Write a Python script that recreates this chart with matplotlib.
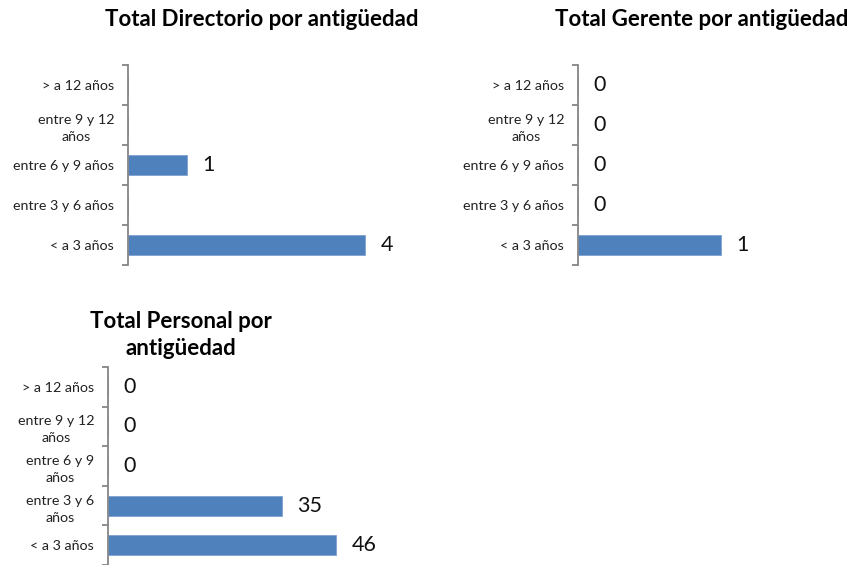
import numpy as np
import matplotlib
matplotlib.use("Agg")
import matplotlib.pyplot as plt

plt.rcParams['font.family'] = ['Lato', 'DejaVu Sans']

# categories, bottom to top
categorias = ["< a 3 años", "entre 3 y 6 años", "entre 6 y 9 años",
              "entre 9 y 12 años", "> a 12 años"]
etiquetas_12 = ["< a 3 años", "entre 3 y 6 años", "entre 6 y 9 años",
                "entre 9 y 12\naños", "> a 12 años"]
etiquetas_3 = ["< a 3 años", "entre 3 y 6\naños", "entre 6 y 9\naños",
               "entre 9 y 12\naños", "> a 12 años"]

directorio = [4, None, 1, None, None]
gerente = [1, 0, 0, 0, 0]
personal = [46, 35, 0, 0, 0]

titulo_dir = "Total Directorio por antigüedad"
titulo_ger = "Total Gerente por antigüedad"
titulo_per = "Total Personal por\nantigüedad"

W, H = 852, 565
AZUL = "#4F81BD"
GRIS = "#868686"


def panel(fig, left, top, bottom, xmax, px_unit, valores, etiquetas):
    width = xmax * px_unit
    ax = fig.add_axes([left / W, 1 - bottom / H, width / W, (bottom - top) / H])
    y = np.arange(len(valores))
    vals = [0 if v is None else v for v in valores]
    ax.barh(y, vals, height=0.5, color=AZUL, edgecolor="#7fa2d0", linewidth=0.6)
    ax.set_xlim(0, xmax)
    ax.set_ylim(-0.5, len(valores) - 0.5)
    for s in ["top", "right", "bottom"]:
        ax.spines[s].set_visible(False)
    ax.spines["left"].set_color(GRIS)
    ax.spines["left"].set_linewidth(1.3)
    ax.set_xticks([])
    # tick marks sit between categories, labels at the centres
    ax.set_yticks(np.arange(len(valores) + 1) - 0.5)
    ax.set_yticklabels([])
    ax.tick_params(axis="y", which="major", length=4, width=1.3, color=GRIS)
    ax.set_yticks(y, minor=True)
    ax.set_yticklabels(etiquetas, minor=True, fontsize=10.3, color="#222222")
    ax.tick_params(axis="y", which="minor", length=0, pad=10)
    for lbl in ax.get_yticklabels(minor=True):
        lbl.set_multialignment("center")
        lbl.set_linespacing(1.5)
    for yi, v in zip(y, valores):
        if v is None:
            continue
        ax.annotate(str(v), (v, yi), xytext=(11, 0), textcoords="offset points",
                    ha="left", va="center", fontsize=15.5, color="#111111")
    return ax


fig = plt.figure(figsize=(W / 100, H / 100), dpi=100)

panel(fig, 128, 65, 265, 5, 59.3, directorio, etiquetas_12)
panel(fig, 578, 65, 265, 1.2, 143, gerente, etiquetas_12)
panel(fig, 108, 367, 565, 50, 4.96, personal, etiquetas_3)

fig.text(262 / W, 1 - 19 / H, titulo_dir, ha="center", va="center",
         fontsize=16, fontweight="bold")
fig.text(702 / W, 1 - 19 / H, titulo_ger, ha="center", va="center",
         fontsize=16, fontweight="bold")
fig.text(181 / W, 1 - 335 / H, titulo_per, ha="center", va="center",
         fontsize=16, fontweight="bold", linespacing=1.3)

fig.savefig("out.png", dpi=100)
